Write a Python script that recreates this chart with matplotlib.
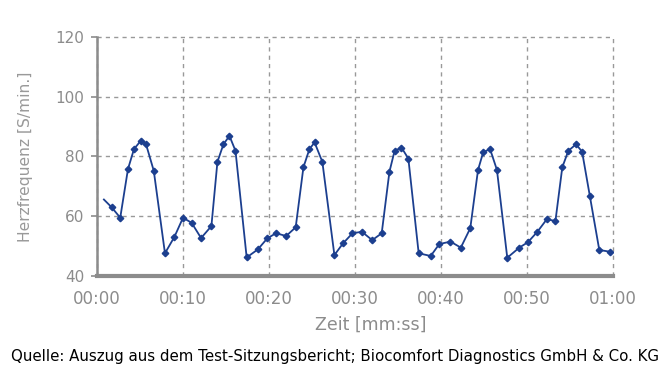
import matplotlib.pyplot as plt
from matplotlib.ticker import FuncFormatter, MultipleLocator

# Zeit in Sekunden, Herzfrequenz in Schlägen/min
zeit_s = [0.8, 1.7, 2.7, 3.6, 4.3, 5.1, 5.7, 6.6, 7.9, 9.0,
          10.0, 11.0, 12.1, 13.3, 14.0, 14.7, 15.4, 16.1, 17.4, 18.7,
          19.8, 20.8, 22.0, 23.1, 24.0, 24.7, 25.3, 26.2, 27.6, 28.6,
          29.7, 30.8, 32.0, 33.1, 34.0, 34.6, 35.4, 36.2, 37.4, 38.8,
          39.8, 41.1, 42.3, 43.4, 44.3, 44.9, 45.7, 46.5, 47.7, 49.1,
          50.1, 51.2, 52.3, 53.3, 54.1, 54.8, 55.7, 56.4, 57.3, 58.4,
          59.7]
herzfrequenz = [65.6, 63.0, 59.5, 75.8, 82.5, 85.3, 84.1, 75.2, 47.6, 53.1,
                59.5, 57.8, 52.7, 56.7, 78.2, 84.1, 86.9, 81.9, 46.2, 48.9,
                52.6, 54.3, 53.4, 56.3, 76.4, 82.5, 84.7, 78.2, 47.0, 50.9,
                54.3, 54.8, 52.0, 54.3, 74.9, 81.9, 83.0, 79.3, 47.6, 46.7,
                50.7, 51.5, 49.5, 56.0, 75.5, 81.4, 82.5, 75.5, 46.1, 49.5,
                51.3, 54.8, 59.0, 58.4, 76.4, 81.9, 84.1, 81.6, 66.8, 48.7,
                48.1]

grau = '#8c8c8c'
blau = '#1c3f8f'


def mmss(x, pos):
    x = int(round(x))
    return f"{x // 60:02d}:{x % 60:02d}"


fig = plt.figure(figsize=(6.7, 3.88), dpi=100)
ax = fig.add_axes([0.1448, 0.2887, 0.7702, 0.6159])

ax.plot(zeit_s, herzfrequenz, color=blau, linewidth=1.3,
        marker='D', markersize=3.3, markevery=range(1, len(zeit_s)))

ax.set_xlim(0, 60)
ax.set_ylim(40, 120)
ax.xaxis.set_major_locator(MultipleLocator(10))
ax.yaxis.set_major_locator(MultipleLocator(20))
ax.xaxis.set_major_formatter(FuncFormatter(mmss))

ax.grid(True, linestyle=(0, (3, 3)), color='#999999', linewidth=1.0)
ax.set_axisbelow(True)
# Rand-Gitterlinien (oben / rechts) sichtbar lassen
for gl in ax.get_xgridlines() + ax.get_ygridlines():
    gl.set_clip_on(False)

for s in ['top', 'right']:
    ax.spines[s].set_visible(False)
ax.spines['left'].set_color(grau)
ax.spines['left'].set_linewidth(1.8)
ax.spines['bottom'].set_color(grau)
ax.spines['bottom'].set_linewidth(3)

ax.tick_params(axis='y', colors=grau, labelsize=11, length=4, width=1.2, pad=5)
ax.tick_params(axis='x', colors=grau, labelsize=12, length=0, pad=10)

ax.set_xlabel('Zeit [mm:ss]', color=grau, fontsize=12.5, va='top')
ax.xaxis.set_label_coords(0.531, -0.168)
ax.set_ylabel('Herzfrequenz [S/min.]', color='#999999', fontsize=11.2, labelpad=16)

fig.text(0.5, 0.08, 'Quelle: Auszug aus dem Test-Sitzungsbericht; Biocomfort Diagnostics GmbH & Co. KG',
         ha='center', va='center', fontsize=10.8, color='black')

fig.savefig('out.png', dpi=100)
